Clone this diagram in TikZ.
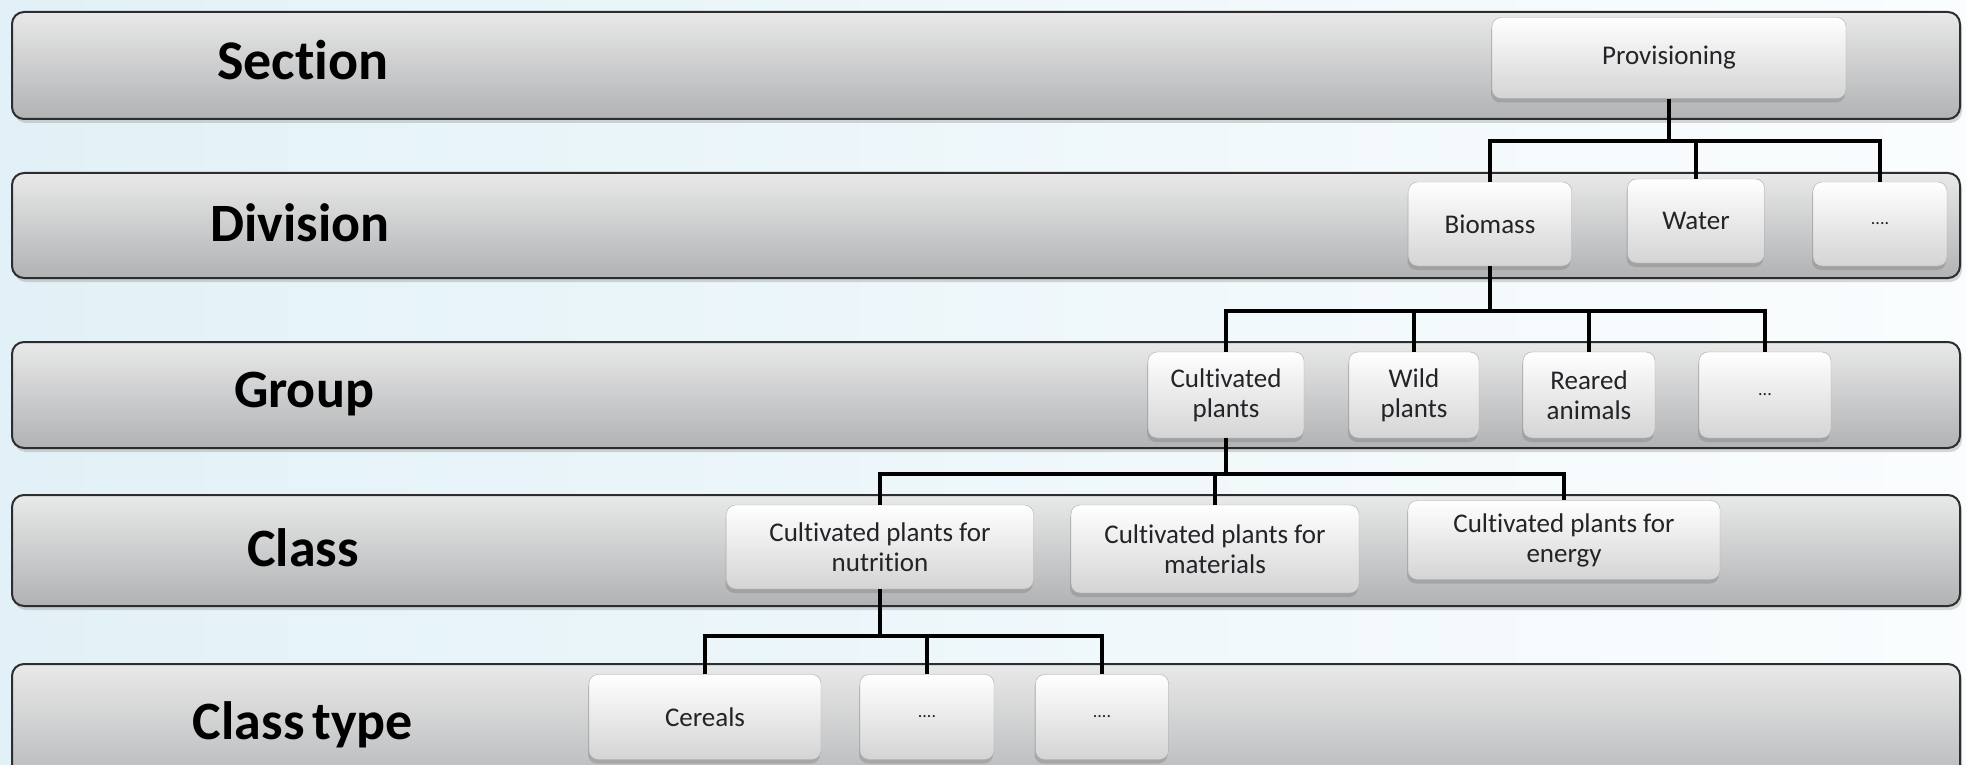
\documentclass[tikz,border=0pt]{standalone}
\usepackage{fontspec}
\setmainfont{Carlito}[RawFeature={-liga;-clig;-dlig}]
\usetikzlibrary{shadows}
\definecolor{bgL}{RGB}{226,241,247}
\definecolor{bgR}{RGB}{250,253,254}
\definecolor{barT}{RGB}{233,233,233}
\definecolor{barB}{RGB}{176,178,180}
\definecolor{barE}{RGB}{45,45,45}
\definecolor{boxB}{RGB}{212,212,212}
\definecolor{txt}{RGB}{35,35,40}
\tikzset{
  levelbar/.style={draw=barE, line width=2pt, rounded corners=12pt, top color=barT, bottom color=barB,
     drop shadow={shadow xshift=2pt, shadow yshift=-4pt, opacity=0.3}},
  levellabel/.style={font=\fontsize{54}{58}\selectfont\bfseries, text=black},
  itembox/.style={rectangle, rounded corners=9pt, top color=white, bottom color=boxB, draw=boxB!80!black, line width=0.4pt,
     drop shadow={shadow xshift=-1pt, shadow yshift=-4pt, opacity=0.4},
     align=center, text=txt, font=\fontsize{27}{30}\selectfont, inner sep=0pt},
  dotsbox/.style={itembox, font=\fontsize{18}{20}\selectfont},
  conn/.style={line width=4.5pt, black}
}
\begin{document}
\begin{tikzpicture}[x=1pt,y=-1pt]
\useasboundingbox (0,0) rectangle (1966,765);
\clip (0,0) rectangle (1966,765);
\shade[left color=bgL, right color=bgR] (0,0) rectangle (1966,765);

% level bars
\path[levelbar] (12,12) rectangle (1960,119);
\path[levelbar] (12,173) rectangle (1960,278);
\path[levelbar] (12,342) rectangle (1960,448);
\path[levelbar] (12,495) rectangle (1960,606);
\path[levelbar] (12,664) rectangle (1960,800);

% level labels
\node[levellabel, font=\fontsize{56}{60}\selectfont\bfseries] (lsec) at (303,60) {Section};
\node[levellabel] (ldiv) at (300,223) {Division};
\node[levellabel] (lgrp) at (304,394) {Group};
\node[levellabel] (lcls) at (303,548) {Class};
\node[levellabel] (ltyp) at (303,725) {Class\hspace{0.15em}type};

% boxes
\node[itembox, minimum width=354, minimum height=81] (prov) at (1669,58) {Provisioning};

\node[itembox, minimum width=163, minimum height=84] (bio) at (1490,224) {Biomass};
\node[itembox, minimum width=137, minimum height=84] (water) at (1696,221) {Water};
\node[dotsbox, minimum width=134, minimum height=84] (ddots) at (1880,224) {....};

\node[itembox, minimum width=156, minimum height=86] (cult) at (1226,395) {Cultivated\\plants};
\node[itembox, minimum width=130, minimum height=86] (wild) at (1414,395) {Wild\\plants};
\node[itembox, minimum width=132, minimum height=86] (reared) at (1589,395) {Reared\\animals};
\node[dotsbox, minimum width=132, minimum height=86] (gdots) at (1765,395) {...};

\node[itembox, minimum width=307, minimum height=84] (nutr) at (880,547) {Cultivated plants for\\nutrition};
\node[itembox, minimum width=288, minimum height=88] (mat) at (1215,549) {Cultivated plants for\\materials};
\node[itembox, minimum width=312, minimum height=79] (energy) at (1564,540) {Cultivated plants for\\energy};

\node[itembox, minimum width=232, minimum height=85] (cer) at (705,717) {Cereals};
\node[dotsbox, minimum width=134, minimum height=85] (tdots1) at (927,717) {....};
\node[dotsbox, minimum width=133, minimum height=85] (tdots2) at (1102,717) {....};

% connector levels
\coordinate (h1) at (0,141);
\coordinate (h2) at (0,311);
\coordinate (h3) at (0,474);
\coordinate (h4) at (0,636);

\draw[conn] (prov.south) -- (prov.south |- h1);
\draw[conn] (bio.north) -- (bio.north |- h1) -- (ddots.north |- h1) -- (ddots.north);
\draw[conn] (water.north) -- (water.north |- h1);

\draw[conn] (bio.south) -- (bio.south |- h2);
\draw[conn] (cult.north) -- (cult.north |- h2) -- (gdots.north |- h2) -- (gdots.north);
\draw[conn] (wild.north) -- (wild.north |- h2);
\draw[conn] (reared.north) -- (reared.north |- h2);

\draw[conn] (cult.south) -- (cult.south |- h3);
\draw[conn] (nutr.north) -- (nutr.north |- h3) -- (energy.north |- h3) -- (energy.north);
\draw[conn] (mat.north) -- (mat.north |- h3);

\draw[conn] (nutr.south) -- (nutr.south |- h4);
\draw[conn] (cer.north) -- (cer.north |- h4) -- (tdots2.north |- h4) -- (tdots2.north);
\draw[conn] (tdots1.north) -- (tdots1.north |- h4);
\end{tikzpicture}
\end{document}
